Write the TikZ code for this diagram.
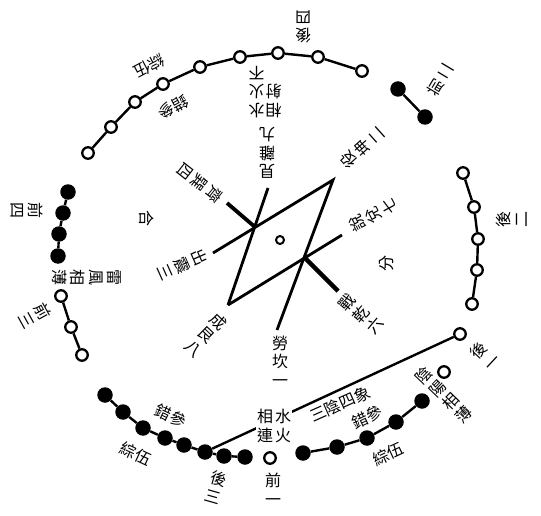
\documentclass[tikz,border=0pt]{standalone}
\usepackage{fontspec}
\newfontfamily\cjk{Noto Sans CJK TC}

\begin{document}
\begin{tikzpicture}[x=1pt, y=-1pt,
    trang/.style={circle, draw, line width=2.3pt, fill=white, minimum size=11.5pt, inner sep=0pt},
    den/.style={circle, fill=black, minimum size=15.5pt, inner sep=0pt},
    chu/.style={font=\cjk\fontsize{16}{18.5}\selectfont, inner sep=1pt, align=center},
    day/.style={line width=2.4pt}]
    \useasboundingbox (0,0) rectangle (541,516);

    % Chín chấm trắng phía trên
    \node[trang] (t1) at (88,153) {};  \node[trang] (t2) at (111,127) {};
    \node[trang] (t3) at (135,102) {}; \node[trang] (t4) at (163,84) {};
    \node[trang] (t5) at (200,67) {};  \node[trang] (t6) at (240,57) {};
    \node[trang] (t7) at (278,53) {};  \node[trang] (t8) at (318,57) {};
    \node[trang] (t9) at (362,71) {};
    \draw[day] (t1) -- (t2) -- (t3) -- (t4) -- (t5) -- (t6) -- (t7) -- (t8) -- (t9);

    % Hai chấm đen góc trên phải
    \node[den] (d1) at (398,89) {};
    \node[den] (d2) at (425,117) {};
    \draw[day] (d1) -- (d2);

    % Bảy chấm trắng bên phải
    \node[trang] (p1) at (463,173) {}; \node[trang] (p2) at (474,207) {};
    \node[trang] (p3) at (478,239) {}; \node[trang] (p4) at (477,270) {};
    \node[trang] (p5) at (472,304) {};
    \node[trang] (p6) at (460,334) {}; \node[trang] (p7) at (444,372) {};
    \draw[day] (p1) -- (p2) -- (p3) -- (p4) -- (p5);

    % Năm chấm đen góc dưới phải
    \node[den] (r1) at (303,453) {}; \node[den] (r2) at (337,447) {};
    \node[den] (r3) at (367,438) {}; \node[den] (r4) at (396,422) {};
    \node[den] (r5) at (422,401) {};
    \draw[day] (r1) -- (r2) -- (r3) -- (r4) -- (r5);

    % Một chấm trắng phía dưới
    \node[trang] (b1) at (270,458) {};

    % Tám chấm đen góc dưới trái
    \node[den] (l1) at (105,395) {}; \node[den] (l2) at (123,412) {};
    \node[den] (l3) at (143,428) {}; \node[den] (l4) at (165,438) {};
    \node[den] (l5) at (184,445) {}; \node[den] (l6) at (205,452) {};
    \node[den] (l7) at (224,456) {}; \node[den] (l8) at (245,457) {};
    \draw[day] (l1) -- (l2) -- (l3) -- (l4) -- (l5) -- (l6) -- (l7) -- (l8);
    \draw[day] (l6) -- (p6);

    % Ba chấm trắng và bốn chấm đen bên trái
    \node[trang] (s1) at (61,296) {}; \node[trang] (s2) at (71,327) {};
    \node[trang] (s3) at (82,355) {};
    \draw[day] (s1) -- (s2) -- (s3);
    \node[den] (k1) at (68,192) {}; \node[den] (k2) at (63,213) {};
    \node[den] (k3) at (59,234) {}; \node[den] (k4) at (58,256) {};
    \draw[day] (k1) -- (k2) -- (k3) -- (k4);

    % Hình thoi ở giữa
    \coordinate (A) at (213,253);
    \coordinate (B) at (333,180);
    \coordinate (C) at (228,305);
    \coordinate (D) at (342,235);
    \coordinate (E) at (268,188);
    \coordinate (F) at (277,330);
    \coordinate (G) at (227,203);
    \coordinate (H) at (255,227);
    \coordinate (K) at (305,258);
    \coordinate (M) at (338,291);
    \draw[line width=2.8pt] (A) -- (B) -- (F);
    \draw[line width=2.8pt] (C) -- (D);
    \draw[line width=2.8pt] (E) -- (C);
    \draw[line width=3.8pt] (G) -- (H);
    \draw[line width=4.5pt] (K) -- (M);
    \node[circle, draw, line width=2pt, minimum size=8pt, inner sep=0pt] (O) at (280,240) {};

    % Tám quẻ hậu thiên
    \node[chu] (kham) at (280,361) {勞\\坎\\一};
    \node[chu, rotate=50] (kien) at (361,314) {戰\\乾\\六};
    \node[chu, rotate=118] (doai) at (373,215) {說\\兌\\七};
    \node[chu, rotate=132] (khon) at (362,148) {役\\坤\\二};
    \node[chu, rotate=180] (ly) at (267,153) {見\\離\\九};
    \node[chu, rotate=-128] (ton) at (200,183) {齊\\巽\\四};
    \node[chu, rotate=-66] (chan) at (183,265) {出\\震\\三};
    \node[chu, rotate=-44] (canb) at (206,335) {成\\艮\\八};
    \node[chu, rotate=-90] (hop) at (147,219) {合};
    \node[chu, rotate=90] (phan) at (387,263) {分};

    % Các câu chữ
    \node[chu, rotate=180] (thuyhoa) at (265,90)
        {\begin{tabular}{@{}c@{\hspace{1pt}}c@{}}相&水\\射&火\\&不\end{tabular}};
    \node[chu, rotate=-90] (loiphong) at (87,277) {雷\\風\\相\\薄};
    \node[chu, fill=white] (tuonglien) at (274,428)
        {\begin{tabular}{@{}c@{\hspace{2pt}}c@{}}相&水\\連&火\end{tabular}};
    \node[chu, rotate=24] (tuongam) at (340,404) {三陰四象};
    \node[chu, rotate=46] (amduong) at (444,395) {陰\\陽\\相\\薄};

    % Chữ dọc theo các chuỗi chấm
    \node[chu, rotate=208] (tac1) at (173,107) {錯參};
    \node[chu, rotate=208] (tong1) at (149,66) {綜伍};
    \node[chu, rotate=-25] (tac2) at (171,416) {錯參};
    \node[chu, rotate=-25] (tong2) at (136,454) {綜伍};
    \node[chu, rotate=25] (tac3) at (367,417) {錯參};
    \node[chu, rotate=25] (tong3) at (388,454) {綜伍};

    % Tên tiền hậu quanh vòng
    \node[chu, rotate=180] (hau4) at (303,27) {後\\四};
    \node[chu, rotate=149] (tien2) at (440,80) {前\\二};
    \node[chu, rotate=90] (hau2) at (512,219) {後\\二};
    \node[chu, rotate=47] (hau1) at (485,356) {後\\一};
    \node[chu] (tien1) at (273,489) {前\\一};
    \node[chu, rotate=-16] (hau3) at (216,487) {後\\三};
    \node[chu, rotate=-61] (tien3) at (35,316) {前\\三};
    \node[chu, rotate=-90] (tien4) at (27,211) {前\\四};
\end{tikzpicture}
\end{document}
